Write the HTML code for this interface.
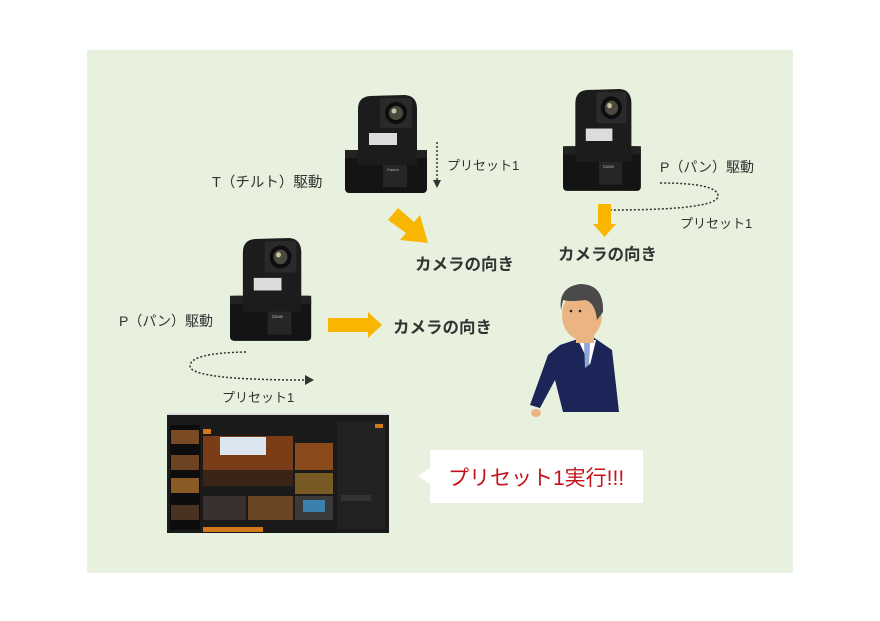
<!DOCTYPE html>
<html><head><meta charset="utf-8"><style>
html,body{margin:0;padding:0;background:#fff;}
svg{display:block;}
text{font-family:"Liberation Sans","Noto Sans CJK JP",sans-serif;}
</style></head><body>
<svg width="880" height="621" viewBox="0 0 880 621" xmlns="http://www.w3.org/2000/svg">
<defs>
<g id="cam">
  <rect x="0" y="55" width="82" height="43" rx="4" fill="#141414"/>
  <rect x="0" y="55" width="82" height="8" fill="#222"/>
  <path d="M13,70 L13,14 Q13,2 25,1 L60,0 Q72,1 72,14 L72,70 Z" fill="#1c1c1c"/>
  <rect x="35" y="3" width="32" height="30" rx="3" fill="#2a2a2a"/>
  <circle cx="51" cy="18" r="11" fill="#0d0d0d"/>
  <circle cx="51" cy="18" r="7" fill="#4a4a3e"/>
  <circle cx="49" cy="16" r="2.5" fill="#c9c2a0"/>
  <rect x="24" y="38" width="28" height="12" fill="#dcdcdc"/>
  <rect x="38" y="70" width="24" height="22" fill="#262626"/>
  <text x="42" y="76" font-size="4" fill="#bbb">Canon</text>
</g>
</defs>
<rect x="87" y="50" width="706" height="523" fill="#e8f0de"/>

<use href="#cam" transform="translate(345,95)"/>
<use href="#cam" transform="translate(563,89) scale(0.95,1.04)"/>
<use href="#cam" transform="translate(230,238) scale(0.99,1.05)"/>

<!-- top middle -->
<text x="212" y="187" font-size="14.5" fill="#333">T（チルト）駆動</text>
<line x1="437" y1="142" x2="437" y2="180" stroke="#333" stroke-width="1.5" stroke-dasharray="2,2"/>
<path d="M433,180 L441,180 L437,188 Z" fill="#333"/>
<text x="447" y="170" font-size="13" fill="#333">プリセット1</text>
<path d="M388,220 L398,208 L414,222 L420,215 L428,243 L400,240 L406,233 Z" fill="#f8b600"/>
<text x="415" y="270" font-size="16.5" font-weight="bold" fill="#333">カメラの向き</text>

<!-- top right -->
<text x="660" y="172" font-size="14" fill="#333">P（パン）駆動</text>
<path d="M660,183 Q718,183 718,196 Q718,210 610,210" fill="none" stroke="#333" stroke-width="1.5" stroke-dasharray="2,2"/>
<path d="M602,210 L611,205 L611,215 Z" fill="#333"/>
<text x="680" y="228" font-size="13" fill="#333">プリセット1</text>
<path d="M598,204 L611,204 L611,224 L616,224 L604.5,237 L593,224 L598,224 Z" fill="#f8b600"/>
<text x="558" y="260" font-size="16.5" font-weight="bold" fill="#333">カメラの向き</text>

<!-- left -->
<text x="119" y="326" font-size="14" fill="#333">P（パン）駆動</text>
<path d="M246,352 Q190,353 190,366 Q190,380 306,380" fill="none" stroke="#333" stroke-width="1.5" stroke-dasharray="2,2"/>
<path d="M314,380 L305,375 L305,385 Z" fill="#333"/>
<text x="222" y="402" font-size="13" fill="#333">プリセット1</text>
<path d="M328,318 L368,318 L368,312 L382,325 L368,338 L368,332 L328,332 Z" fill="#f8b600"/>
<text x="393" y="333" font-size="16.5" font-weight="bold" fill="#333">カメラの向き</text>

<!-- man -->
<path d="M560,345 L590,335 L612,350 L619,412 L563,412 L555,380 L540,408 L530,405 L548,355 Z" fill="#1c2557"/>
<path d="M578,340 L596,340 L590,365 Z" fill="#fff"/>
<path d="M584,342 L590,342 L589,365 L585,368 Z" fill="#8da5d9"/>
<rect x="576" y="325" width="18" height="18" fill="#eab583"/>
<ellipse cx="582" cy="315" rx="20" ry="25" fill="#eab583"/>
<path d="M561,310 Q558,287 580,284 Q604,284 603,312 L597,320 Q595,302 585,300 Q570,302 563,300 Z" fill="#4a4a4a"/>
<circle cx="571" cy="311" r="1.3" fill="#222"/><circle cx="580" cy="311" r="1.3" fill="#222"/>
<ellipse cx="536" cy="413" rx="5" ry="4" fill="#eab583"/>

<!-- screenshot -->
<rect x="167" y="413" width="222" height="120" fill="#1a1a1a"/>
<rect x="167" y="413" width="222" height="2" fill="#ddd"/>
<rect x="170" y="425" width="30" height="105" fill="#0d0d0d"/>
<rect x="171" y="430" width="28" height="14" fill="#7a4a24"/>
<rect x="171" y="455" width="28" height="15" fill="#6e4322"/>
<rect x="171" y="478" width="28" height="15" fill="#8a5a24"/>
<rect x="171" y="505" width="28" height="15" fill="#4a3220"/>
<rect x="203" y="436" width="90" height="50" fill="#7b3d18"/>
<rect x="220" y="437" width="46" height="18" fill="#dbe6ee"/>
<rect x="203" y="470" width="90" height="16" fill="#3a2418"/>
<rect x="295" y="443" width="38" height="27" fill="#8a4a1c"/>
<rect x="295" y="473" width="38" height="21" fill="#7a5a24"/>
<rect x="203" y="496" width="43" height="24" fill="#3a3030"/>
<rect x="248" y="496" width="45" height="24" fill="#6a4622"/>
<rect x="295" y="496" width="38" height="24" fill="#3c3a38"/>
<rect x="303" y="500" width="22" height="12" fill="#3aa0e0" opacity="0.7"/>
<rect x="203" y="429" width="8" height="5" fill="#d4781a"/>
<rect x="203" y="527" width="60" height="5" fill="#d4781a"/>
<rect x="337" y="421" width="48" height="108" fill="#222"/>
<rect x="375" y="424" width="8" height="4" fill="#d4781a"/>
<rect x="341" y="495" width="30" height="6" fill="#333"/>

<!-- callout -->
<path d="M430,450 L643,450 L643,503 L430,503 L430,484 L418,476 L430,468 Z" fill="#fff"/>
<text x="448" y="485" font-size="21" fill="#c4121a">プリセット1実行!!!</text>
</svg>
</body></html>
